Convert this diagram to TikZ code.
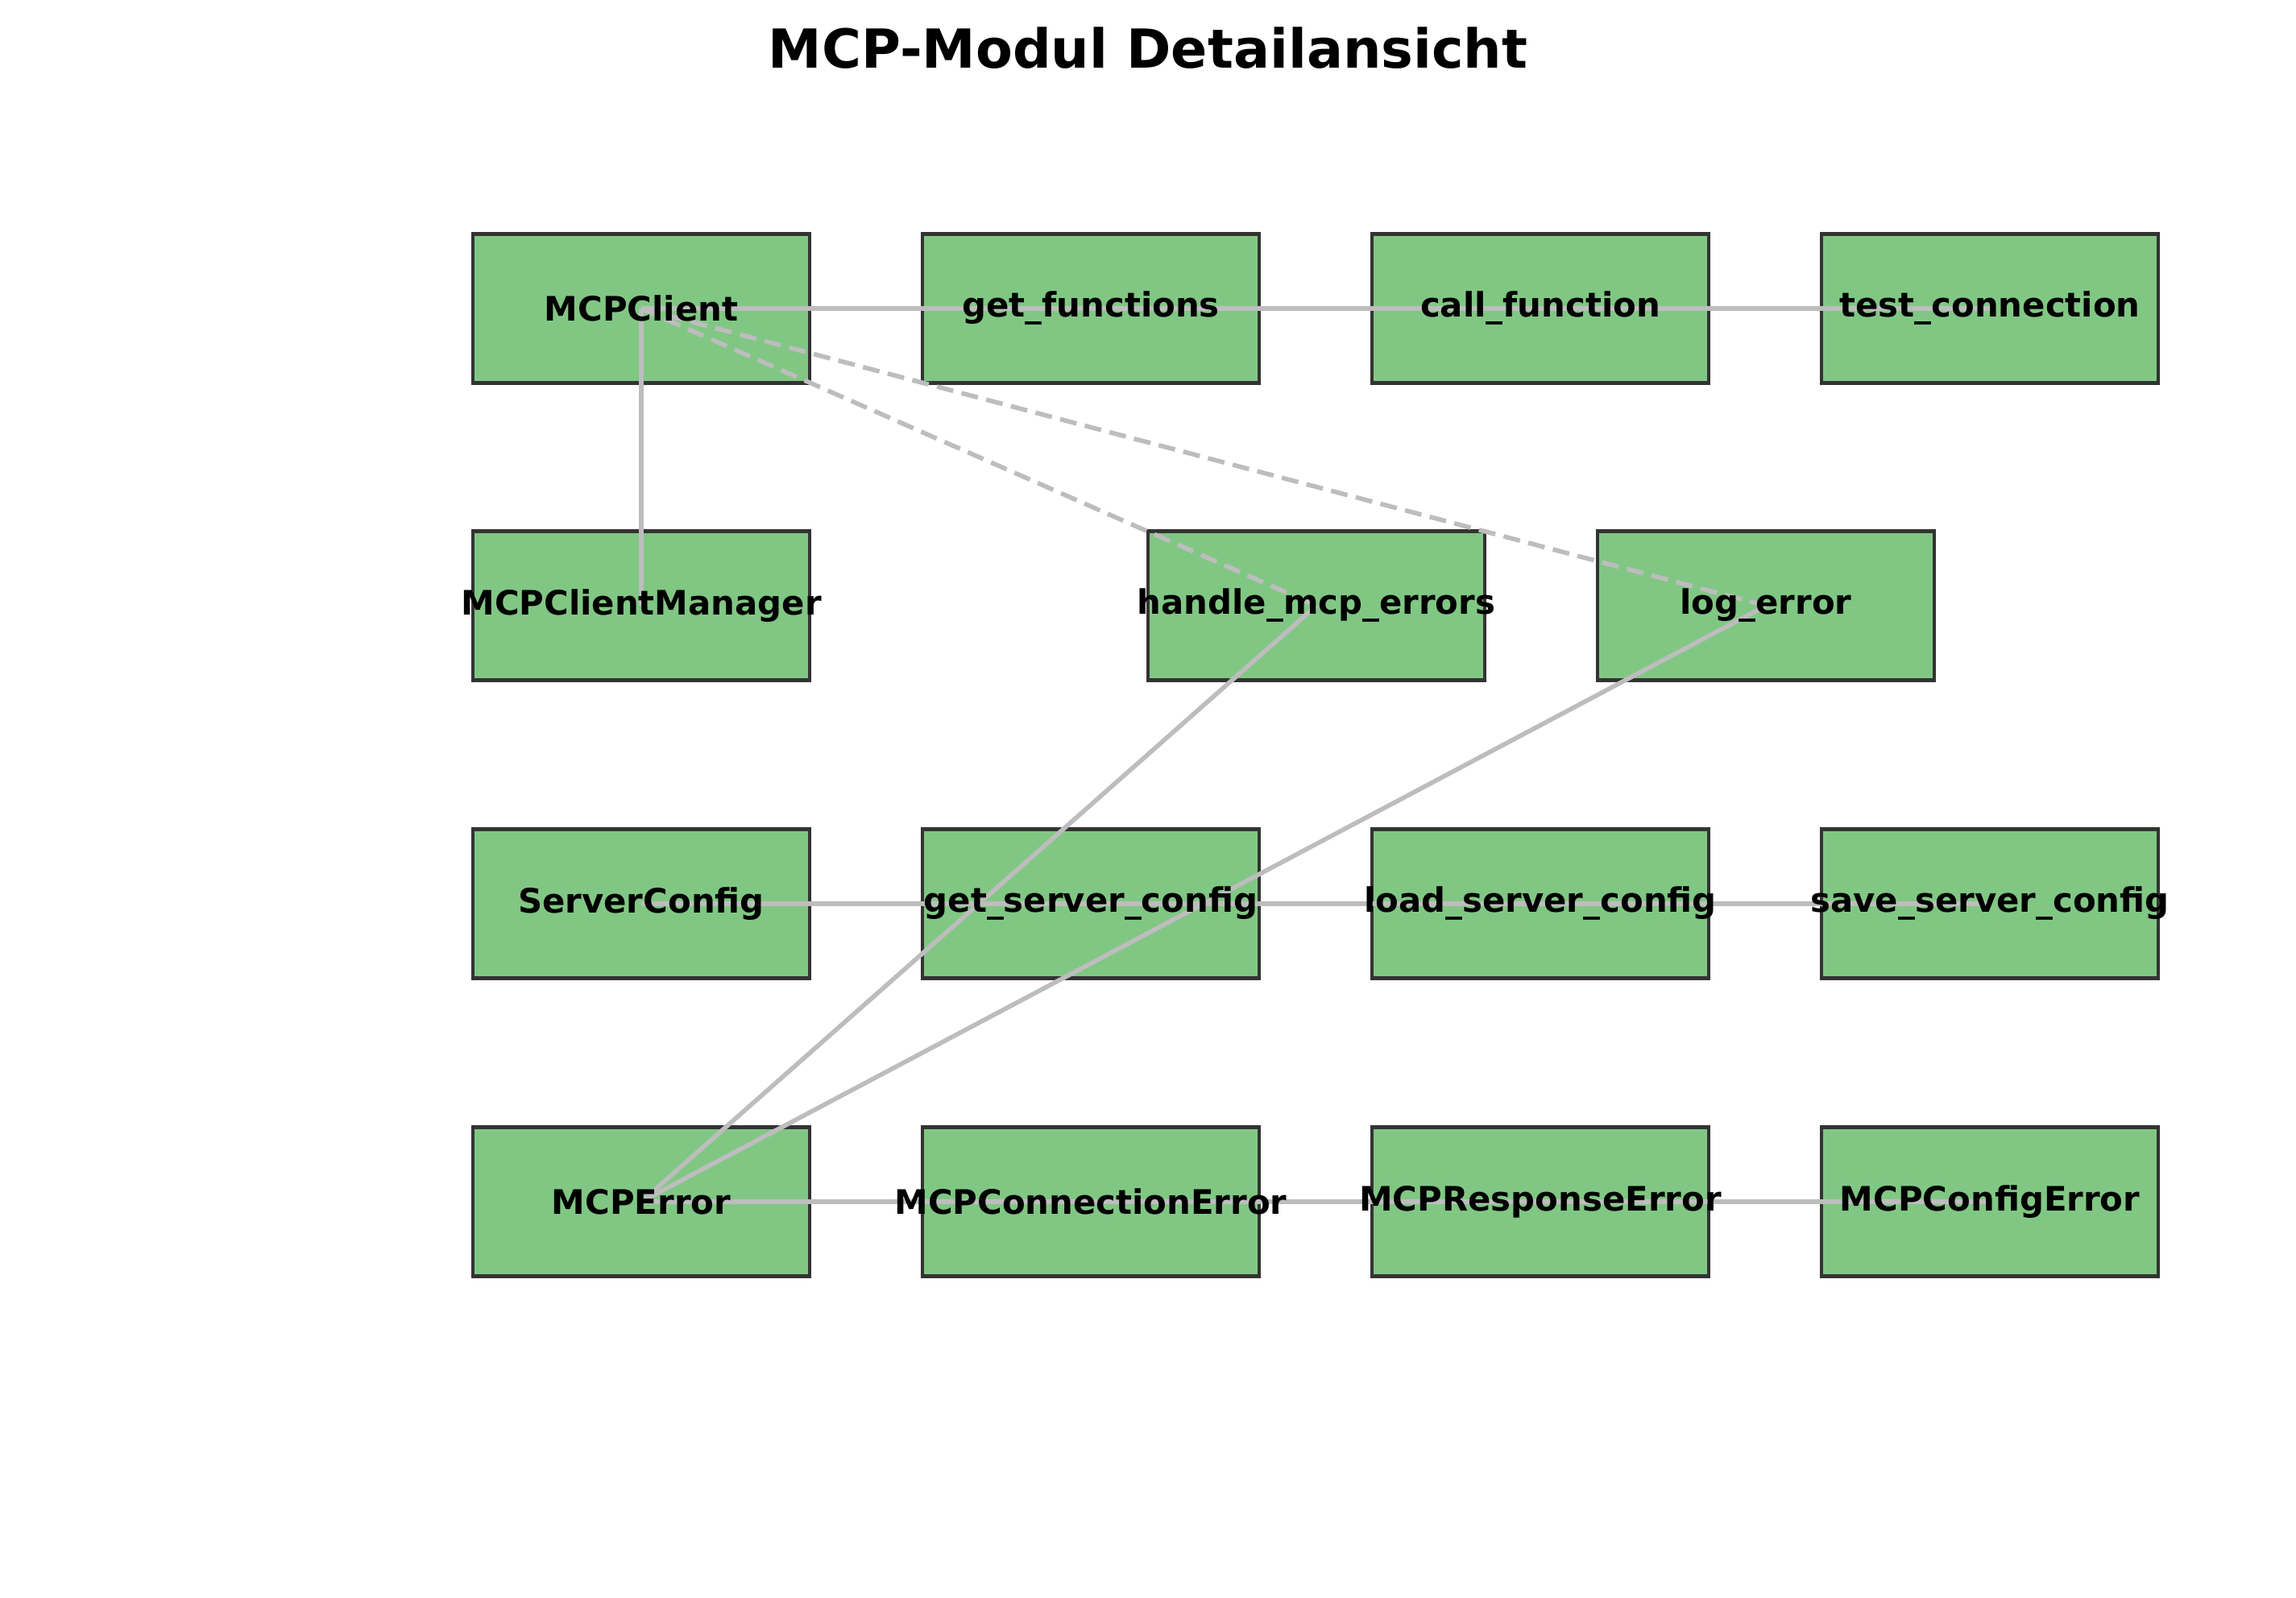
\documentclass[tikz,border=0pt]{standalone}
\usepackage{fontspec}
\setmainfont{DejaVu Sans}
\definecolor{boxgreen}{HTML}{81C784}
\definecolor{boxedge}{HTML}{333333}
\definecolor{linkgray}{HTML}{BDBDBD}
\tikzset{box/.style={draw=boxedge,fill=boxgreen,line width=1.2pt,minimum width=4.18cm,minimum height=1.85cm,inner sep=0pt}}
\tikzset{lbl/.style={font=\fontsize{11.9}{14}\selectfont\bfseries,inner sep=0pt}}
\tikzset{link/.style={draw=linkgray,line width=1.6pt}}
\tikzset{weak/.style={link,dash pattern=on 6pt off 3pt}}

\begin{document}
\begin{tikzpicture}
  \useasboundingbox (0,0) rectangle (28.5,19.84);
  % title
  \node[font=\fontsize{19}{22}\selectfont\bfseries] (title) at (14.25,19.24) {MCP-Modul Detailansicht};
  % boxes
  \node[box] (client) at (7.96,16.01) {};
  \node[box] (getfun) at (13.54,16.01) {};
  \node[box] (callfun) at (19.12,16.01) {};
  \node[box] (testcon) at (24.70,16.01) {};
  \node[box] (manager) at (7.96,12.32) {};
  \node[box] (handle) at (16.34,12.32) {};
  \node[box] (logerr) at (21.92,12.32) {};
  \node[box] (srvcfg) at (7.96,8.62) {};
  \node[box] (getcfg) at (13.54,8.62) {};
  \node[box] (loadcfg) at (19.12,8.62) {};
  \node[box] (savecfg) at (24.70,8.62) {};
  \node[box] (error) at (7.96,4.92) {};
  \node[box] (connerr) at (13.54,4.92) {};
  \node[box] (resperr) at (19.12,4.92) {};
  \node[box] (cfgerr) at (24.70,4.92) {};
  % links
  \draw[link] (client.center) -- (getfun.center) -- (callfun.center) -- (testcon.center);
  \draw[link] (client.center) -- (manager.center);
  \draw[weak] (client.center) -- (handle.center);
  \draw[weak] (client.center) -- (logerr.center);
  \draw[link] (srvcfg.center) -- (getcfg.center) -- (loadcfg.center) -- (savecfg.center);
  \draw[link] (error.center) -- (handle.center);
  \draw[link] (error.center) -- (logerr.center);
  \draw[link] (error.center) -- (connerr.center) -- (resperr.center) -- (cfgerr.center);
  % labels
  \node[lbl] (client-t) at (client) {MCPClient};
  \node[lbl] (getfun-t) at (getfun) {get\_functions};
  \node[lbl] (callfun-t) at (callfun) {call\_function};
  \node[lbl] (testcon-t) at (testcon) {test\_connection};
  \node[lbl] (manager-t) at (manager) {MCPClientManager};
  \node[lbl] (handle-t) at (handle) {handle\_mcp\_errors};
  \node[lbl] (logerr-t) at (logerr) {log\_error};
  \node[lbl] (srvcfg-t) at (srvcfg) {ServerConfig};
  \node[lbl] (getcfg-t) at (getcfg) {get\_server\_config};
  \node[lbl] (loadcfg-t) at (loadcfg) {load\_server\_config};
  \node[lbl] (savecfg-t) at (savecfg) {save\_server\_config};
  \node[lbl] (error-t) at (error) {MCPError};
  \node[lbl] (connerr-t) at (connerr) {MCPConnectionError};
  \node[lbl] (resperr-t) at (resperr) {MCPResponseError};
  \node[lbl] (cfgerr-t) at (cfgerr) {MCPConfigError};
\end{tikzpicture}
\end{document}
